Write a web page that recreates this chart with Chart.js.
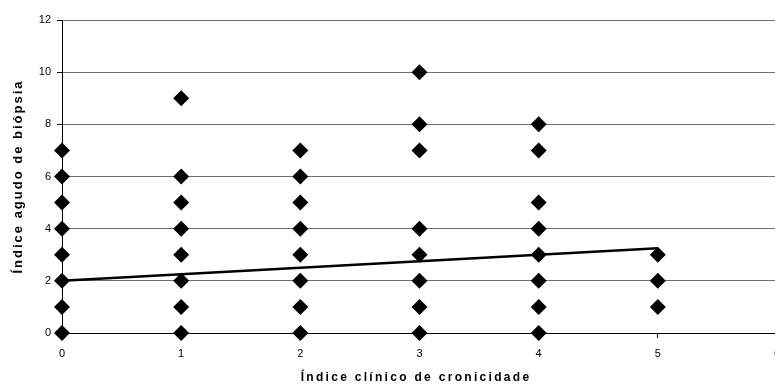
<!DOCTYPE html>
<html>
<head>
<meta charset="utf-8">
<style>
  html, body { margin: 0; padding: 0; overflow: hidden; background: #fff; }
  #wrap { width: 790px; height: 387px; }
</style>
<script src="https://cdn.jsdelivr.net/npm/chart.js@4"></script>
</head>
<body>
<div id="wrap"><canvas id="c" width="790" height="387"></canvas></div>
<script>
// ---- data ----
const xValues = [0, 1, 2, 3, 4, 5];
const yAtX0 = [0, 1, 2, 3, 4, 5, 6, 7];
const yAtX1 = [0, 1, 2, 3, 4, 5, 6, 9];
const yAtX2 = [0, 1, 2, 3, 4, 5, 6, 7];
const yAtX3 = [0, 1, 2, 3, 4, 7, 8, 10];
const yAtX4 = [0, 1, 2, 3, 4, 5, 7, 8];
const yAtX5 = [1, 2, 3];
const trendX = [0, 5];
const trendY = [2.0, 3.25];
const xTitle = 'Índice clínico de cronicidade';
const yTitle = 'Índice agudo de biópsia';

const groups = [yAtX0, yAtX1, yAtX2, yAtX3, yAtX4, yAtX5];
const scatterPoints = [];
groups.forEach((ys, i) => ys.forEach(y => scatterPoints.push({ x: xValues[i], y })));
const trendPoints = trendX.map((x, i) => ({ x, y: trendY[i] }));

const FONT = '"Liberation Sans", Arial, sans-serif';

const titlesPlugin = {
  id: 'spacedTitles',
  afterDraw(chart) {
    const ctx = chart.ctx;
    const area = chart.chartArea;
    ctx.save();
    ctx.fillStyle = '#000';
    ctx.textBaseline = 'middle';
    ctx.textAlign = 'left';
    // x title
    ctx.font = 'bold 12px ' + FONT;
    ctx.letterSpacing = '2.3px';
    let w = ctx.measureText(xTitle).width;
    ctx.fillText(xTitle, 416 - w / 2, 378);
    // y title
    ctx.font = 'bold 13px ' + FONT;
    ctx.letterSpacing = '2px';
    w = ctx.measureText(yTitle).width;
    ctx.translate(18, (area.top + area.bottom) / 2);
    ctx.rotate(-Math.PI / 2);
    ctx.fillText(yTitle, -w / 2, 0);
    ctx.restore();
  }
};

new Chart(document.getElementById('c'), {
  type: 'scatter',
  data: {
    datasets: [
      {
        type: 'line',
        data: trendPoints,
        borderColor: '#000',
        borderWidth: 2.5,
        pointRadius: 0,
        fill: false,
        clip: false,
        order: 0
      },
      {
        data: scatterPoints,
        pointStyle: 'rectRot',
        pointRadius: 8,
        pointHoverRadius: 8,
        backgroundColor: '#000',
        borderColor: '#000',
        borderWidth: 0,
        clip: false,
        order: 1
      }
    ]
  },
  plugins: [titlesPlugin],
  options: {
    responsive: false,
    animation: false,
    events: [],
    layout: { padding: { top: 20, left: 0, right: 13, bottom: 0 } },
    plugins: { legend: { display: false }, tooltip: { enabled: false } },
    scales: {
      x: {
        type: 'linear',
        min: 0, max: 6,
        afterFit(s) { s.height = 54; },
        ticks: { stepSize: 1, color: '#000', font: { family: FONT, size: 11 }, padding: 9 },
        grid: { drawOnChartArea: false, drawTicks: true, tickLength: 5, color: '#000' },
        border: { color: '#000', width: 1 }
      },
      y: {
        min: 0, max: 12,
        afterFit(s) { s.width = 62; },
        ticks: { stepSize: 2, color: '#000', font: { family: FONT, size: 11 }, padding: 6 },
        grid: { color: '#6e6e6e', lineWidth: 1, tickLength: 5, tickColor: '#000' },
        border: { color: '#000', width: 1 }
      }
    }
  }
});
</script>
</body>
</html>
